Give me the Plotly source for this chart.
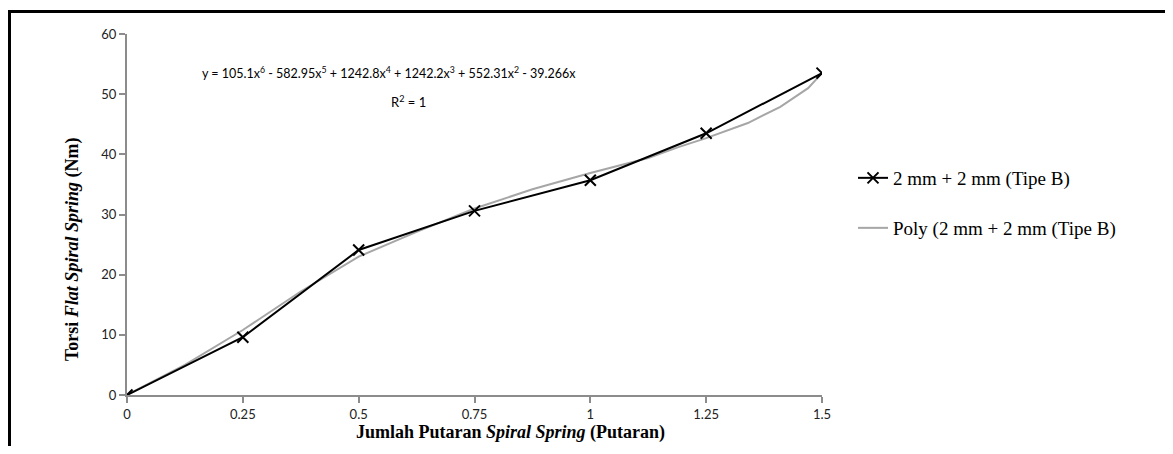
import plotly.graph_objects as go

# Data
putaran = [0, 0.25, 0.5, 0.75, 1.0, 1.25, 1.5]
torsi = [0, 9.6, 24.1, 30.6, 35.7, 43.5, 53.5]

poly_x = [0, 0.125, 0.25, 0.375, 0.5, 0.625, 0.75, 0.875, 1.0, 1.125, 1.19, 1.25, 1.34, 1.41, 1.47, 1.5]
poly_y = [0, 5.0, 10.8, 17.2, 23.0, 27.1, 31.0, 34.2, 36.9, 39.4, 41.2, 42.7, 45.2, 47.9, 51.0, 53.5]

x_ticks = [0, 0.25, 0.5, 0.75, 1, 1.25, 1.5]
x_tick_labels = ["0", "0.25", "0.5", "0.75", "1", "1.25", "1.5"]
y_ticks = [0, 10, 20, 30, 40, 50, 60]

OFF = 8  # page body margin
W, H = 1173 - 2 * OFF, 454 - 2 * OFF
ML, MT = 127 - OFF, 34 - OFF
PLOT_R, PLOT_B = 822 - OFF, 395 - OFF
MR = W - PLOT_R
MB = H - PLOT_B
PW = PLOT_R - ML
PH = PLOT_B - MT

def px_x(p):
    return (p - OFF - ML) / PW

def px_y(p):
    return (PLOT_B - (p - OFF)) / PH

fig = go.Figure()

fig.add_trace(go.Scatter(
    x=poly_x, y=poly_y, mode="lines",
    line=dict(color="#A6A6A6", width=2),
    name="Poly (2 mm + 2 mm (Tipe B)",
    legend="legend2",
))

fig.add_trace(go.Scatter(
    x=putaran, y=torsi, mode="lines+markers",
    line=dict(color="black", width=2),
    marker=dict(symbol="x-thin", size=11, line=dict(color="black", width=2)),
    name="2 mm + 2 mm (Tipe B)",
    legend="legend",
))

tick_font = dict(family="Lato, Open Sans, sans-serif", size=13, color="#222")
serif = "Liberation Serif, Times New Roman, serif"

fig.update_layout(
    width=W, height=H,
    margin=dict(l=ML, r=MR, t=MT, b=MB, autoexpand=False),
    paper_bgcolor="white", plot_bgcolor="white",
    showlegend=True,
    xaxis=dict(
        range=[0, 1.5], tickvals=x_ticks, ticktext=x_tick_labels,
        showgrid=False, zeroline=False, automargin=False,
        showline=True, linecolor="#8C8C8C", linewidth=2,
        ticks="outside", ticklen=6, tickcolor="#8C8C8C", tickwidth=1.5,
        tickfont=tick_font,
    ),
    yaxis=dict(
        range=[0, 60], tickvals=y_ticks,
        showgrid=False, zeroline=False, automargin=False,
        showline=True, linecolor="#8C8C8C", linewidth=2,
        ticks="outside", ticklen=6, tickcolor="#8C8C8C", tickwidth=1.5,
        tickfont=tick_font,
    ),
    legend=dict(
        x=px_x(853), y=px_y(178), xanchor="left", yanchor="middle",
        font=dict(family=serif, size=19, color="black"),
        bgcolor="rgba(0,0,0,0)", itemwidth=30,
    ),
    legend2=dict(
        x=px_x(853), y=px_y(228), xanchor="left", yanchor="middle",
        font=dict(family=serif, size=19, color="black"),
        bgcolor="rgba(0,0,0,0)", itemwidth=30,
    ),
    annotations=[
        dict(x=px_x(389), y=px_y(73), xref="paper", yref="paper", showarrow=False,
             xanchor="center", yanchor="middle",
             text="y = 105.1x<sup>6</sup> - 582.95x<sup>5</sup> + 1242.8x<sup>4</sup> + 1242.2x<sup>3</sup> + 552.31x<sup>2</sup> - 39.266x",
             font=dict(family="Lato, Open Sans, sans-serif", size=12.5, color="black")),
        dict(x=px_x(408), y=px_y(101), xref="paper", yref="paper", showarrow=False,
             xanchor="center", yanchor="middle",
             text="R<sup>2</sup> = 1",
             font=dict(family="Lato, Open Sans, sans-serif", size=13, color="black")),
        dict(x=px_x(510), y=px_y(433), xref="paper", yref="paper", showarrow=False,
             xanchor="center", yanchor="middle",
             text="<b>Jumlah Putaran <i>Spiral Spring</i> (Putaran)</b>",
             font=dict(family=serif, size=18, color="black")),
        dict(x=px_x(72), y=px_y(250), xref="paper", yref="paper", showarrow=False,
             xanchor="center", yanchor="middle", textangle=-90,
             text="<b>Torsi <i>Flat Spiral Spring</i> (Nm)</b>",
             font=dict(family=serif, size=18, color="black")),
    ],
    shapes=[
        dict(type="line", xref="paper", yref="paper",
             x0=px_x(9.5), x1=px_x(9.5), y0=px_y(10), y1=px_y(470),
             line=dict(color="black", width=3)),
        dict(type="line", xref="paper", yref="paper",
             x0=px_x(8), x1=px_x(1190), y0=px_y(11.5), y1=px_y(11.5),
             line=dict(color="black", width=3)),
    ],
)

fig.write_html("out.html")
